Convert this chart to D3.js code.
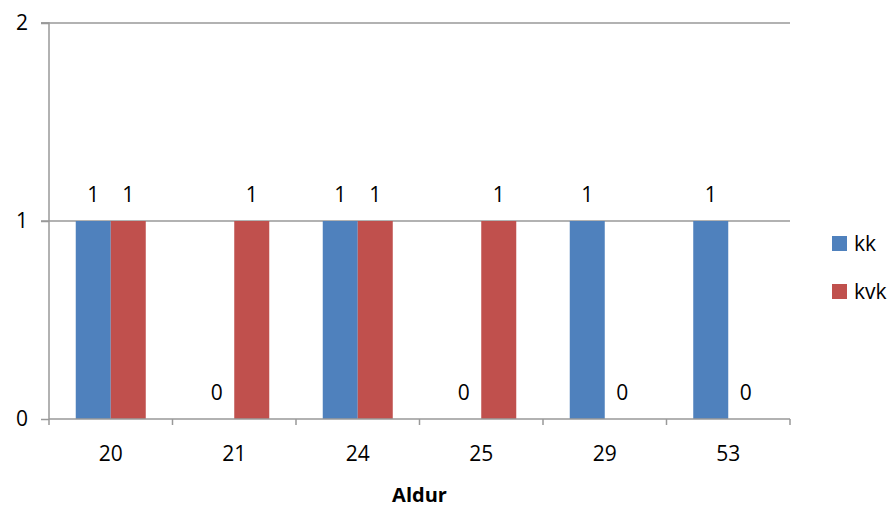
<!DOCTYPE html>
<html><head><meta charset="utf-8">
<script src="https://cdn.jsdelivr.net/npm/d3@7"></script>
<style>body{margin:0;background:#fff;} svg{display:block;font-family:"Open Sans",sans-serif;}</style>
</head><body>
<svg id="c" width="893" height="508"></svg>
<script>
const categories = ["20","21","24","25","29","53"];
const seriesNames = ["kk","kvk"];
const kk = [1,0,1,0,1,1];
const kvk = [1,1,1,1,0,0];
const yTicks = [0,1,2];
const xTitle = "Aldur";
const colors = ["#4F81BD","#C0504D"];

const svg = d3.select("#c");
const L = 49, R = 790, T = 23, B = 419;
const x = d3.scaleBand().domain(categories).range([L, R]).padding(0);
const xs = d3.scaleBand().domain(seriesNames).range([0, x.bandwidth()]).paddingInner(0).paddingOuter(0.764);
const y = d3.scaleLinear().domain([0, 2]).range([B, T]);
const data = [kk, kvk];
const grid = "#999";

// gridlines
svg.append("g").selectAll("line").data(yTicks.filter(d=>d>0)).join("line")
  .attr("x1", L - 8).attr("x2", R).attr("y1", d=>y(d)).attr("y2", d=>y(d))
  .attr("stroke", grid).attr("stroke-width", 1.5);

// y axis
const ya = svg.append("g").attr("transform", `translate(${L},0)`)
  .call(d3.axisLeft(y).tickValues(yTicks).tickSize(8).tickFormat(d3.format("d")));
ya.select(".domain").attr("stroke", grid).attr("stroke-width", 1.5).attr("d", `M-8,${T}H0V${B}`);
ya.selectAll(".tick line").attr("stroke", grid).attr("stroke-width", 1.5);
ya.selectAll(".tick text").attr("x", -27).attr("text-anchor","middle").attr("font-size", 21).attr("fill","#000").attr("font-family","Open Sans");

// bars
data.forEach((vals, si) => {
  svg.append("g").selectAll("rect").data(vals).join("rect")
    .attr("x", (d,i) => x(categories[i]) + xs(seriesNames[si]))
    .attr("width", xs.bandwidth())
    .attr("y", d => y(d)).attr("height", d => B - y(d))
    .attr("fill", colors[si]);
  svg.append("g").selectAll("text").data(vals).join("text")
    .attr("x", (d,i) => x(categories[i]) + xs(seriesNames[si]) + xs.bandwidth()/2)
    .attr("y", d => y(d) - 19)
    .attr("text-anchor","middle").attr("font-size", 21).attr("fill","#000")
    .text(d => d);
});

// x axis
const xa = svg.append("g").attr("transform", `translate(0,${B})`)
  .call(d3.axisBottom(x).tickSize(0));
xa.select(".domain").attr("stroke", grid).attr("stroke-width", 1.5).attr("d", `M${L},0H${R}`);
xa.selectAll(".tick text").attr("dy", 0).attr("y", 42).attr("font-size", 21).attr("fill","#000").attr("font-family","Open Sans");
const bounds = categories.map(c => x(c)).concat([R]);
svg.append("g").selectAll("line").data(bounds).join("line")
  .attr("x1", d=>d).attr("x2", d=>d).attr("y1", B).attr("y2", B + 6)
  .attr("stroke", grid).attr("stroke-width", 1.5);

svg.append("text").attr("x", (L+R)/2).attr("y", 502).attr("text-anchor","middle")
  .attr("font-size", 20).attr("font-weight","bold").text(xTitle);

// legend
const lg = svg.append("g");
seriesNames.forEach((s, i) => {
  lg.append("rect").attr("x", 832).attr("y", 236 + i*48).attr("width", 15).attr("height", 15).attr("fill", colors[i]);
  lg.append("text").attr("x", 854).attr("y", 251 + i*48).attr("font-size", 21).text(s);
});
</script>
</body></html>
